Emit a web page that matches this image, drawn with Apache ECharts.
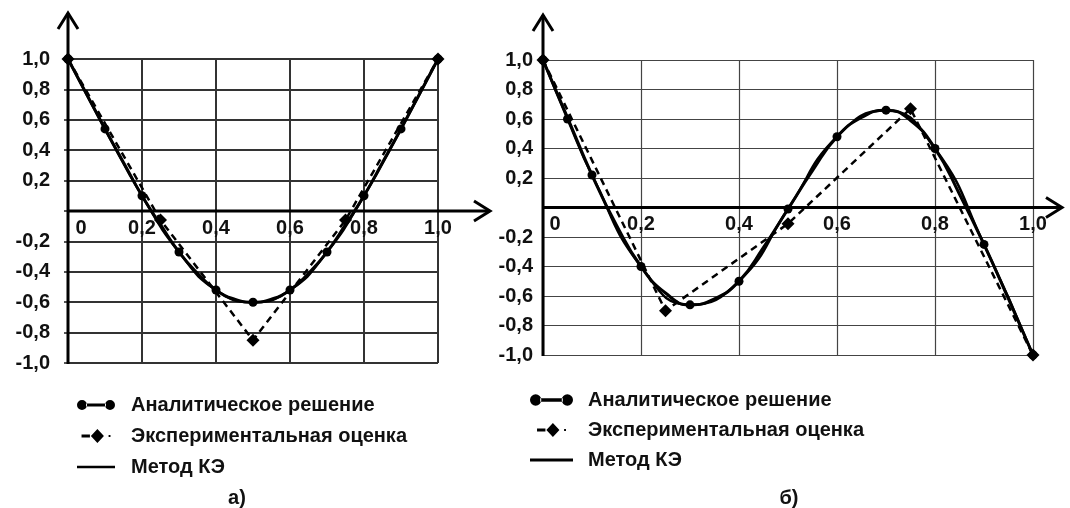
<!DOCTYPE html>
<html>
<head>
<meta charset="utf-8">
<script src="https://cdn.jsdelivr.net/npm/echarts@6/dist/echarts.min.js"></script>
<style>
  html, body { margin: 0; padding: 0; background: #fff; }
  #chart { width: 1070px; height: 508px; }
</style>
</head>
<body>
<div id="chart"></div>
<script>
// ---- Series names and panel captions ----
const seriesNames = ['Аналитическое решение', 'Экспериментальная оценка', 'Метод КЭ'];
const panelCaptions = ['а)', 'б)'];

// ---- Axis ticks (both panels) ----
const xTickMin = 0, xTickMax = 1, xTickStep = 0.2;
const yTickMin = -1, yTickMax = 1, yTickStep = 0.2;

// ---- Panel а) ----
const aAnalyticX = [0, 0.1, 0.2, 0.3, 0.4, 0.5, 0.6, 0.7, 0.8, 0.9, 1.0];
const aAnalyticY = [1.0, 0.54, 0.10, -0.27, -0.52, -0.60, -0.52, -0.27, 0.10, 0.54, 1.0];
const aExperimentX = [0, 0.25, 0.5, 0.75, 1.0];
const aExperimentY = [1.0, -0.06, -0.85, -0.06, 1.0];
const aFemX = [0, 0.05, 0.1, 0.15, 0.2, 0.25, 0.3, 0.35, 0.4, 0.45, 0.5, 0.55, 0.6, 0.65, 0.7, 0.75, 0.8, 0.85, 0.9, 0.95, 1.0];
const aFemY = [1.0, 0.77, 0.54, 0.32, 0.10, -0.09, -0.27, -0.41, -0.52, -0.58, -0.60, -0.58, -0.52, -0.41, -0.27, -0.09, 0.10, 0.32, 0.54, 0.77, 1.0];

// ---- Panel б) ----
const bAnalyticX = [0, 0.05, 0.1, 0.2, 0.3, 0.4, 0.5, 0.6, 0.7, 0.8, 0.9, 1.0];
const bAnalyticY = [1.0, 0.60, 0.22, -0.40, -0.66, -0.50, -0.01, 0.48, 0.66, 0.40, -0.25, -1.0];
const bExperimentX = [0, 0.25, 0.5, 0.75, 1.0];
const bExperimentY = [1.0, -0.70, -0.11, 0.67, -1.0];
const bFemX = [0, 0.05, 0.1, 0.15, 0.2, 0.25, 0.3, 0.35, 0.4, 0.45, 0.5, 0.55, 0.6, 0.65, 0.7, 0.75, 0.8, 0.85, 0.9, 0.95, 1.0];
const bFemY = [1.0, 0.61, 0.22, -0.12, -0.40, -0.58, -0.66, -0.62, -0.50, -0.27, -0.01, 0.25, 0.48, 0.61, 0.66, 0.59, 0.40, 0.09, -0.25, -0.62, -1.0];

const pairs = (xs, ys) => xs.map((x, i) => [x, ys[i]]);
const FONT = '"Liberation Sans", Arial, sans-serif';
const fmt = v => (Math.round(v * 10) / 10).toFixed(1).replace('.', ',');

// Plot rectangles of the two panels
const gridA = { left: 68, top: 59, width: 370, height: 304 };
const gridB = { left: 543, top: 60, width: 490, height: 295 };
// distance from the bottom edge of a grid up to its y = 0 line
const zeroLift = g => g.height * (0 - yTickMin) / (yTickMax - yTickMin);

const chart = echarts.init(document.getElementById('chart'), null, { renderer: 'canvas' });

function xAxisFor(gridIndex, grid, splitWidth, splitColor, zeroPad) {
  return {
    type: 'value', gridIndex, min: xTickMin, max: xTickMax, interval: xTickStep,
    position: 'bottom', offset: -zeroLift(grid),
    axisLine: { show: true, onZero: false, lineStyle: { opacity: 0 } },
    axisTick: { show: false },
    splitLine: { show: true, lineStyle: { color: splitColor, width: splitWidth } },
    axisLabel: {
      margin: 7, color: '#111', fontFamily: FONT, fontWeight: 'bold', fontSize: 20,
      showMinLabel: true, showMaxLabel: true,
      formatter: v => (v === 0 ? '{z|0}' : fmt(v)),
      rich: { z: { padding: [0, 0, 0, zeroPad], fontFamily: FONT, fontWeight: 'bold', fontSize: 20, color: '#111' } }
    }
  };
}
function yAxisFor(gridIndex, splitWidth, splitColor, margin, tick) {
  return {
    type: 'value', gridIndex, min: yTickMin, max: yTickMax, interval: yTickStep,
    axisLine: { show: true, onZero: false, lineStyle: { opacity: 0 } },
    axisTick: { show: tick, length: 4, lineStyle: { color: '#555', width: 2 } },
    splitLine: { show: true, lineStyle: { color: splitColor, width: splitWidth } },
    axisLabel: {
      margin, color: '#111', fontFamily: FONT, fontWeight: 'bold', fontSize: 20,
      formatter: v => (Math.abs(v) < 1e-9 ? '' : fmt(v))
    }
  };
}

function seriesFor(gi, an, ex, fem) {
  return [
    {
      name: seriesNames[2], type: 'line', xAxisIndex: gi, yAxisIndex: gi,
      data: fem, smooth: true, symbol: 'none', color: '#000',
      lineStyle: { color: '#000', width: 3 }, z: 3
    },
    {
      name: seriesNames[1], type: 'line', xAxisIndex: gi, yAxisIndex: gi,
      data: ex, smooth: false, symbol: 'diamond', symbolSize: 13, color: '#000',
      itemStyle: { color: '#000' },
      lineStyle: { color: '#000', width: 2.5, type: [7, 5] }, z: 4
    },
    {
      name: seriesNames[0], type: 'line', xAxisIndex: gi, yAxisIndex: gi,
      data: an, smooth: true, symbol: 'circle', symbolSize: 9, color: '#000',
      itemStyle: { color: '#000' },
      lineStyle: { color: '#000', width: 2.5 }, z: 5
    }
  ];
}

// Legend glyphs: dumbbell, dash-diamond-dot, plain bar
const iconAnalytic = 'path://M0,5a5,5 0 1,0 10,0a5,5 0 1,0 -10,0Z M9,3.5L29,3.5L29,6.5L9,6.5Z M28,5a5,5 0 1,0 10,0a5,5 0 1,0 -10,0Z';
const iconExperiment = 'path://M0,6L9,6L9,9L0,9Z M10,7.5L17,0L24,7.5L17,15Z M29,6.5L31,6.5L31,8.5L29,8.5Z';
const iconFem = 'path://M0,0L38,0L38,2.5L0,2.5Z';

function legendFor(left, top, itemWidth, gap, textPad) {
  return {
    orient: 'vertical', left, top, itemWidth, itemHeight: 14, itemGap: gap,
    selectedMode: false,
    textStyle: { fontFamily: FONT, fontWeight: 'bold', fontSize: 20, color: '#111', lineHeight: 20, padding: [0, 0, 0, textPad] },
    data: [
      { name: seriesNames[0], icon: iconAnalytic },
      { name: seriesNames[1], icon: iconExperiment },
      { name: seriesNames[2], icon: iconFem }
    ]
  };
}

chart.setOption({
  animation: false,
  backgroundColor: '#fff',
  grid: [gridA, gridB],
  xAxis: [xAxisFor(0, gridA, 2, '#333', 26), xAxisFor(1, gridB, 1.2, '#444', 24)],
  yAxis: [yAxisFor(0, 2, '#333', 18, true), yAxisFor(1, 1.2, '#444', 10, false)],
  legend: [legendFor(72, 390, 38, 11, 11), legendFor(525, 385, 43, 10, 10)],
  series: [
    ...seriesFor(0, pairs(aAnalyticX, aAnalyticY), pairs(aExperimentX, aExperimentY), pairs(aFemX, aFemY)),
    ...seriesFor(1, pairs(bAnalyticX, bAnalyticY), pairs(bExperimentX, bExperimentY), pairs(bFemX, bFemY))
  ]
});

// Arrowed coordinate axes extending past the plot area, placed from the grid's own scales
function arrowAxes(gi, xOver, yOver) {
  const o = chart.convertToPixel({ gridIndex: gi }, [0, 0]);
  const xr = chart.convertToPixel({ gridIndex: gi }, [1, 0]);
  const yt = chart.convertToPixel({ gridIndex: gi }, [0, 1]);
  const yb = chart.convertToPixel({ gridIndex: gi }, [0, -1]);
  const tipX = xr[0] + xOver, tipY = yt[1] - yOver;
  const st = { stroke: '#000', lineWidth: 3, fill: 'none', lineCap: 'butt', lineJoin: 'miter' };
  return [
    { type: 'polyline', z: 1, shape: { points: [[o[0], o[1]], [tipX, o[1]]] }, style: st },
    { type: 'polyline', z: 1, shape: { points: [[tipX - 16, o[1] - 10], [tipX, o[1]], [tipX - 16, o[1] + 10]] }, style: st },
    { type: 'polyline', z: 1, shape: { points: [[o[0], yb[1] + 1], [o[0], tipY]] }, style: st },
    { type: 'polyline', z: 1, shape: { points: [[o[0] - 10, tipY + 16], [o[0], tipY], [o[0] + 10, tipY + 16]] }, style: st }
  ];
}

chart.setOption({
  graphic: [
    ...arrowAxes(0, 52, 46),
    ...arrowAxes(1, 29, 45),
    { type: 'text', z: 1, x: 237, y: 498, style: { text: panelCaptions[0], align: 'center', verticalAlign: 'middle', font: 'bold 20px ' + FONT, fill: '#111' } },
    { type: 'text', z: 1, x: 789, y: 498, style: { text: panelCaptions[1], align: 'center', verticalAlign: 'middle', font: 'bold 20px ' + FONT, fill: '#111' } }
  ]
});
</script>
</body>
</html>
